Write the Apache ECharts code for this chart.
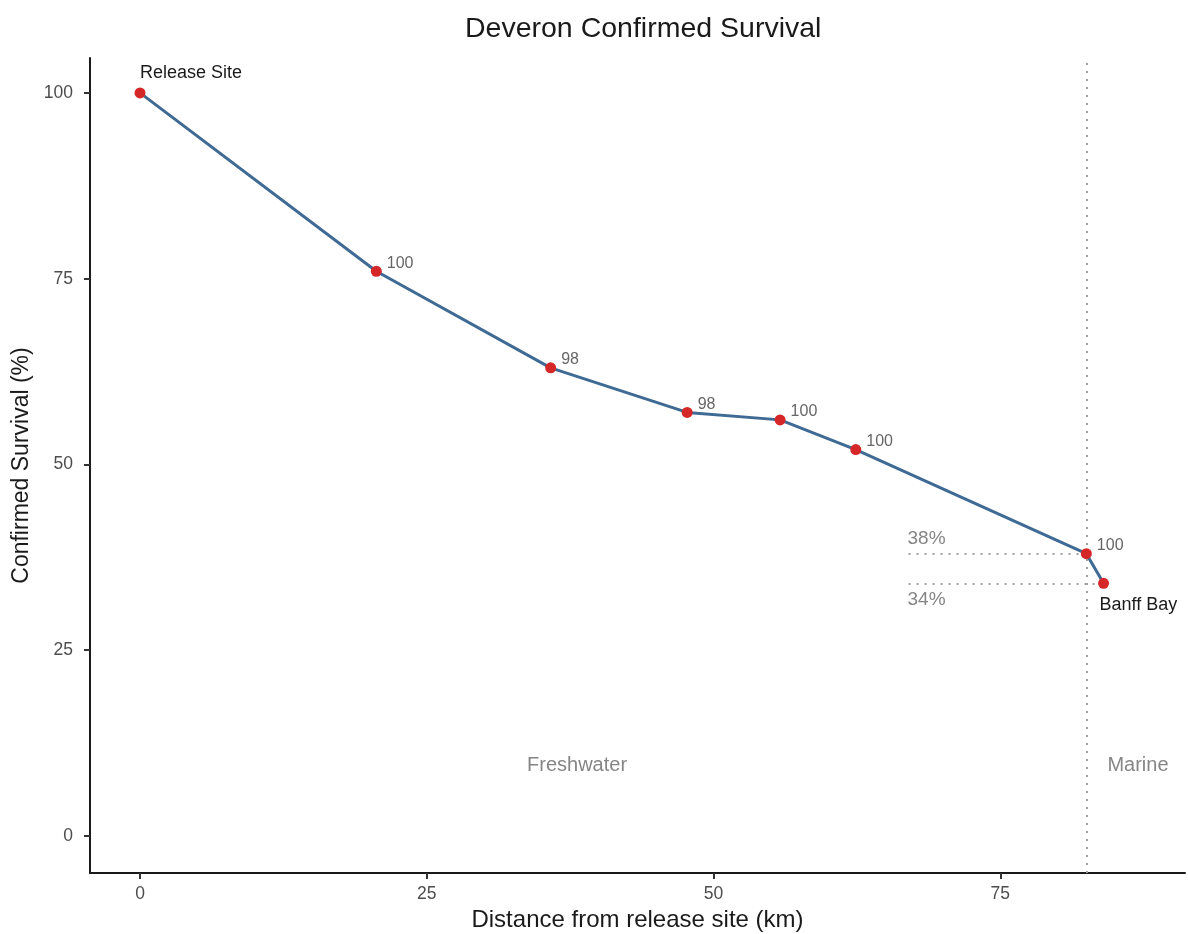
<!DOCTYPE html>
<html>
<head>
<meta charset="utf-8">
<script src="https://cdn.jsdelivr.net/npm/echarts@6/dist/echarts.min.js"></script>
<style>html,body{margin:0;padding:0;background:#fff}#c{width:1188px;height:934px}</style>
</head>
<body>
<div id="c"></div>
<script>
const distances = [0, 20.6, 35.8, 47.7, 55.8, 62.4, 82.5, 84.0];
const survival = [100, 76, 63, 57, 56, 52, 38, 34];
const pointLabels = ["Release Site", "100", "98", "98", "100", "100", "100", "Banff Bay"];
const xTicks = [0, 25, 50, 75];
const yTicks = [0, 25, 50, 75, 100];
const boundaryX = 82.5;
const refStartX = 67;
const zoneLabels = [["Freshwater", 38.1, 9.5], ["Marine", 87.0, 9.5]];
const pctLabels = [["38%", 67, 38], ["34%", 67, 34]];

const FONT = 'Liberation Sans, Arial, Helvetica';
const chart = echarts.init(document.getElementById('c'));
const n = distances.length;
const lineData = distances.map((d, i) => {
  let label;
  if (i === 0) {
    label = {show: true, formatter: pointLabels[i], position: 'top', align: 'left', color: '#1a1a1a', fontSize: 18, offset: [0, 0], fontFamily: FONT};
  } else if (i === n - 1) {
    label = {show: true, formatter: pointLabels[i], position: 'bottom', align: 'left', color: '#1a1a1a', fontSize: 18, offset: [-4, 2], fontFamily: FONT};
  } else {
    label = {show: true, formatter: pointLabels[i], position: 'right', color: '#666666', fontSize: 16, offset: [0, -8], fontFamily: FONT};
  }
  return {value: [d, survival[i]], label};
});

const axisCommon = {
  axisLine: {show: true, onZero: false, lineStyle: {color: '#1a1a1a', width: 2}},
  axisTick: {show: true, length: 6, lineStyle: {color: '#333', width: 2}},
  splitLine: {show: false},
  axisLabel: {color: '#4d4d4d', fontSize: 17.5, fontFamily: FONT},
  nameTextStyle: {color: '#1a1a1a', fontSize: 23, fontFamily: FONT}
};

chart.setOption({
  animation: false,
  title: {text: 'Deveron Confirmed Survival', left: 460, top: 10,
    textStyle: {fontSize: 28.5, fontWeight: 'normal', color: '#1a1a1a', fontFamily: FONT}},
  grid: {left: 90, right: 3, top: 58, bottom: 61, containLabel: false, outerBoundsMode: 'none'},
  xAxis: Object.assign({}, axisCommon, {
    type: 'value', min: -4.36, max: 91.1,
    name: 'Distance from release site (km)', nameLocation: 'middle', nameGap: 33,
    nameTextStyle: Object.assign({}, axisCommon.nameTextStyle, {fontSize: 24}),
    axisTick: Object.assign({}, axisCommon.axisTick, {customValues: xTicks}),
    axisLabel: Object.assign({}, axisCommon.axisLabel, {customValues: xTicks, margin: 12})
  }),
  yAxis: Object.assign({}, axisCommon, {
    type: 'value', min: -4.98, max: 104.7,
    name: 'Confirmed Survival (%)', nameLocation: 'middle', nameGap: 55,
    axisTick: Object.assign({}, axisCommon.axisTick, {customValues: yTicks}),
    axisLabel: Object.assign({}, axisCommon.axisLabel, {customValues: yTicks, margin: 17})
  }),
  series: [
    {
      type: 'line',
      data: lineData,
      symbol: 'circle', symbolSize: 11,
      itemStyle: {color: '#d62728'},
      lineStyle: {color: '#3e6a94', width: 3},
      z: 5,
      markLine: {
        silent: true, symbol: 'none', label: {show: false},
        lineStyle: {color: '#a0a0a0', type: [2, 6], width: 2},
        data: [
          {xAxis: boundaryX},
          [{coord: [refStartX, survival[n - 2]]}, {coord: [distances[n - 2], survival[n - 2]]}],
          [{coord: [refStartX, survival[n - 1]]}, {coord: [distances[n - 1], survival[n - 1]]}]
        ]
      }
    },
    {
      type: 'scatter', symbolSize: 0, silent: true,
      data: zoneLabels.map(z => ({value: [z[1], z[2]], label: {show: true, formatter: z[0]}})),
      label: {position: 'inside', color: '#666666', fontSize: 20, fontFamily: FONT}
    },
    {
      type: 'scatter', symbolSize: 0, silent: true,
      data: pctLabels.map((p, i) => ({value: [p[1], p[2]], label: {show: true, formatter: p[0], position: i === 0 ? 'top' : 'bottom', align: 'left', offset: i === 0 ? [-1, 0] : [-1, 2]}})),
      label: {color: '#666666', fontSize: 19, fontFamily: FONT}
    }
  ]
});
</script>
</body>
</html>
